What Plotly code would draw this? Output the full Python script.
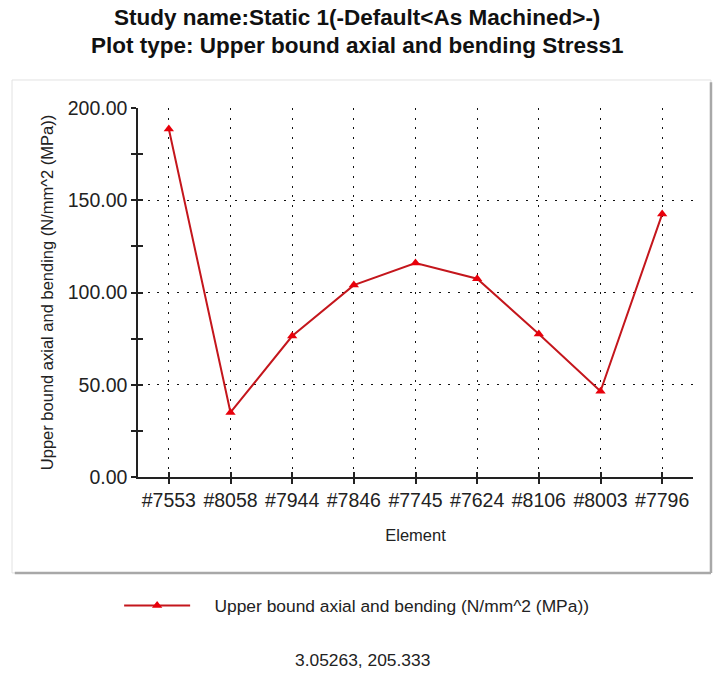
import plotly.graph_objects as go

elements = ["#7553", "#8058", "#7944", "#7846", "#7745", "#7624", "#8106", "#8003", "#7796"]
stress = [188.6, 35.0, 76.4, 104.0, 116.0, 107.5, 77.5, 46.5, 142.5]
y_ticks = [0, 50, 100, 150, 200]
series_name = "Upper bound axial and bending (N/mm^2 (MPa))"
title_lines = ["Study name:Static 1(-Default<As Machined>-)",
               "Plot type: Upper bound axial and bending Stress1"]
cursor_text = "3.05263, 205.333"

FONT = "Liberation Sans, Arial, sans-serif"
GRID_DASH = "2px,7.7px"

fig = go.Figure()
fig.add_trace(go.Scatter(
    x=elements, y=stress, mode="lines+markers",
    name="&nbsp;&nbsp;&nbsp;&nbsp;" + series_name,
    line=dict(color="#c4161c", width=2),
    marker=dict(symbol="triangle-up", size=9, color="#e8000b"),
))
# invisible twin trace to drive the overlay axes (ticks crossing the axis)
fig.add_trace(go.Scatter(
    x=elements, y=stress, mode="lines", xaxis="x2", yaxis="y2",
    opacity=0, showlegend=False, hoverinfo="skip",
))

fig.update_layout(
    width=714, height=677,
    margin=dict(l=138, r=21, t=108, b=200),
    paper_bgcolor="white", plot_bgcolor="white",
    font=dict(family=FONT, color="#222222", size=17),
    showlegend=True,
    legend=dict(orientation="h", x=-0.034, xanchor="left", y=-0.349, yanchor="middle",
                font=dict(size=17.4, color="#222222"), bgcolor="rgba(0,0,0,0)",
                itemwidth=66),
    xaxis=dict(type="category", categoryorder="array", categoryarray=elements,
               range=[-0.5, len(elements) - 0.5],
               showline=True, linecolor="#222222", linewidth=1.5,
               ticks="outside", ticklen=5, tickwidth=1.5, tickcolor="#222222",
               showgrid=True, gridcolor="#111111", gridwidth=1, griddash=GRID_DASH,
               tickfont=dict(size=19.5),
               title=dict(text="Element", font=dict(size=16.5), standoff=19),
               zeroline=False),
    yaxis=dict(range=[0, 200], tickvals=y_ticks, tickformat=".2f",
               showline=True, linecolor="#222222", linewidth=1.5,
               ticks="outside", ticklen=5, tickwidth=1.5, tickcolor="#222222",
               minor=dict(dtick=25, ticks="outside", ticklen=5, tickwidth=1.5,
                          tickcolor="#222222", showgrid=False),
               showgrid=True, gridcolor="#111111", gridwidth=1, griddash=GRID_DASH,
               tickfont=dict(size=19.5),
               title=dict(text=series_name, font=dict(size=16.5), standoff=10),
               zeroline=False),
    xaxis2=dict(type="category", categoryorder="array", categoryarray=elements,
                overlaying="x", anchor="y", side="bottom", matches="x",
                ticks="inside", ticklen=5, tickwidth=1.5, tickcolor="#222222",
                showticklabels=False, showgrid=False, showline=False, zeroline=False),
    yaxis2=dict(overlaying="y", anchor="x", side="left", matches="y",
                tickvals=y_ticks,
                ticks="inside", ticklen=5, tickwidth=1.5, tickcolor="#222222",
                minor=dict(dtick=25, ticks="inside", ticklen=5, tickwidth=1.5,
                           tickcolor="#222222", showgrid=False),
                showticklabels=False, showgrid=False, showline=False, zeroline=False),
    annotations=[
        dict(text="<b>" + title_lines[0] + "</b>", xref="paper", yref="paper",
             x=0.3946, y=1.2466, xanchor="center", yanchor="middle", showarrow=False,
             font=dict(size=22.5, color="#111111")),
        dict(text="<b>" + title_lines[1] + "</b>", xref="paper", yref="paper",
             x=0.3946, y=1.1707, xanchor="center", yanchor="middle", showarrow=False,
             font=dict(size=22.5, color="#111111")),
        dict(text=cursor_text, xref="paper", yref="paper",
             x=0.405, y=-0.5285, showarrow=False,
             font=dict(size=17.4, color="#222222")),
    ],
    shapes=[
        dict(type="rect", xref="paper", yref="paper", x0=-0.227, x1=1.0324,
             y0=-0.26, y1=1.0759, line=dict(color="#e2e2e2", width=1), layer="below"),
        dict(type="line", xref="paper", yref="paper", x0=1.0324, x1=1.0324,
             y0=-0.26, y1=1.07, line=dict(color="#a8a8a8", width=2.5)),
        dict(type="line", xref="paper", yref="paper", x0=-0.222, x1=1.0324,
             y0=-0.26, y1=-0.26, line=dict(color="#a8a8a8", width=2.5)),
    ],
)

fig.write_html("out.html", config={"displayModeBar": False},
               post_script="document.body.style.margin='0';")
